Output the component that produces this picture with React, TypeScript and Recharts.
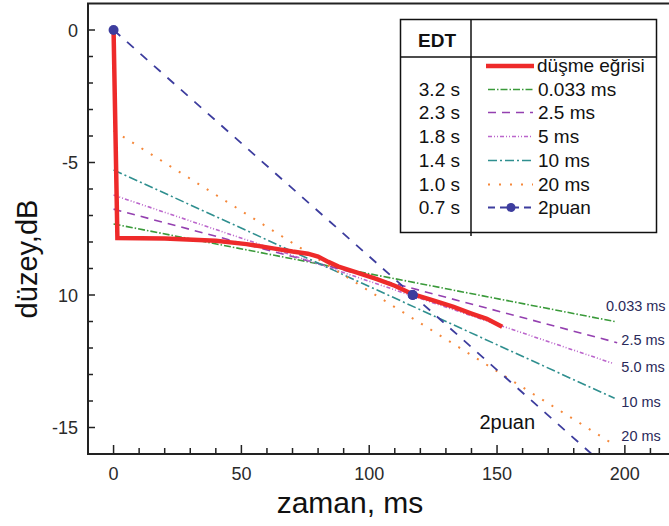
import React from "react";
import { LineChart, Line, XAxis, YAxis, ReferenceArea, ReferenceDot } from "recharts";

// düşme eğrisi (ölçülen)
const decayTime = [0, 1.5, 20, 40, 52, 63, 70, 76, 80, 84, 88, 95, 103, 110, 117, 125, 133, 140, 146, 152];
const decayLevel = [0, -7.85, -7.87, -7.95, -8.08, -8.25, -8.36, -8.44, -8.55, -8.75, -8.93, -9.15, -9.4, -9.65, -9.97, -10.2, -10.45, -10.7, -10.9, -11.2];

// doğrusal uydurmalar
const fitNames = ["0.033 ms", "2.5 ms", "5 ms", "10 ms", "20 ms"];
const fitEndLabels = ["0.033 ms", "2.5 ms", "5.0 ms", "10 ms", "20 ms"];
const fitStartLevel = [-7.32, -6.76, -6.23, -5.28, -3.8];
const fitEndTime = [196, 197, 195, 196, 195];
const fitEndLevel = [-11.0, -11.8, -12.57, -13.9, -15.6];
const fitColors = ["#3a9a3a", "#9440b0", "#bb66cc", "#2f8f8f", "#f5883a"];
const fitDash = ["7 2 1.5 2", "8 6", "4 2 1 2 1 2", "9 3 2 3", "2 9"];

// 2 nokta
const pointTime = [0, 117, 187];
const pointLevel = [0, -10, -16];

const edtValues = ["3.2 s", "2.3 s", "1.8 s", "1.4 s", "1.0 s", "0.7 s"];

const xTicks = [0, 10, 20, 30, 40, 50, 60, 70, 80, 90, 100, 110, 120, 130, 140, 150, 160, 170, 180, 190, 200, 210];
const yTicks = [0, -1, -2, -3, -4, -5, -6, -7, -8, -9, -10, -11, -12, -13, -14, -15];
const yLabelText: Record<number, string> = { 0: "0", [-5]: "-5", [-10]: "10", [-15]: "-15" };

const FONT = "'Liberation Sans', Arial, sans-serif";
const BLUE = "#3d3d9e";

const decayData = decayTime.map((t, i) => ({ x: t, y: decayLevel[i] }));
const fitData = fitNames.map((_, i) => [
  { x: 0, y: fitStartLevel[i] },
  { x: fitEndTime[i], y: fitEndLevel[i] },
]);
const pointData = pointTime.map((t, i) => ({ x: t, y: pointLevel[i] }));

// etiket yerleri (ms, dB)
const endLabelPos = [
  [193, -10.64],
  [199, -11.92],
  [199, -12.94],
  [199, -14.26],
  [199, -15.55],
];

const XTick = (props: any) => {
  const { x, y, payload } = props;
  const v = payload.value;
  const major = v % 50 === 0;
  return (
    <g>
      <line x1={x} x2={x} y1={y} y2={y - (major ? 9 : 6)} stroke="#222" strokeWidth={1.5} />
      {major && (
        <text x={x} y={y + 26} textAnchor="middle" fontSize={18} fontFamily={FONT} fill="#2a2a2a">
          {v}
        </text>
      )}
    </g>
  );
};

const YTick = (props: any) => {
  const { x, y, payload } = props;
  const v = payload.value;
  const label = yLabelText[v];
  return (
    <g>
      <line x1={x} x2={x + (label ? 7 : 5)} y1={y} y2={y} stroke="#222" strokeWidth={1.5} />
      {label && (
        <text x={x - 10} y={y + 6.5} textAnchor="end" fontSize={18} fontFamily={FONT} fill="#2a2a2a">
          {label}
        </text>
      )}
    </g>
  );
};

const PointDot = (props: any) => {
  const { cx, cy, index } = props;
  if (index > 1) return <g key={index} />;
  return <circle key={index} cx={cx} cy={cy} r={5} fill={BLUE} />;
};

const textLabel = (text: string, size: number, color: string) => (p: any) => (
  <text x={p.viewBox.x} y={p.viewBox.y} fontSize={size} fontFamily={FONT} fill={color}>
    {text}
  </text>
);

function LegendBox() {
  const rowY = [72, 96, 119, 143, 167, 191, 214];
  return (
    <svg width={669} height={526} style={{ position: "absolute", left: 0, top: 0, pointerEvents: "none" }}>
      <rect x={400.5} y={19.5} width={256} height={213} fill="#fff" stroke="#111" strokeWidth={1.5} />
      <line x1={471} x2={471} y1={19.5} y2={236} stroke="#111" strokeWidth={1.5} />
      <line x1={400.5} x2={656.5} y1={57} y2={57} stroke="#111" strokeWidth={1.5} />
      <text x={437} y={47} textAnchor="middle" fontSize={19} fontWeight="bold" fontFamily={FONT} fill="#111">
        EDT
      </text>
      <line x1={486} x2={534} y1={66} y2={66} stroke="#ee2a2a" strokeWidth={4.5} />
      <text x={537} y={rowY[0]} fontSize={19} fontFamily={FONT} fill="#111">
        düşme eğrisi
      </text>
      {fitNames.map((n, i) => (
        <g key={n}>
          <text x={460} y={rowY[i + 1]} textAnchor="end" fontSize={19} fontFamily={FONT} fill="#111">
            {edtValues[i]}
          </text>
          <line
            x1={488}
            x2={533}
            y1={rowY[i + 1] - 6.5}
            y2={rowY[i + 1] - 6.5}
            stroke={fitColors[i]}
            strokeWidth={i === 4 ? 2 : 1.6}
            strokeDasharray={fitDash[i]}
          />
          <text x={538} y={rowY[i + 1]} fontSize={19} fontFamily={FONT} fill="#111">
            {n}
          </text>
        </g>
      ))}
      <text x={460} y={rowY[6]} textAnchor="end" fontSize={19} fontFamily={FONT} fill="#111">
        {edtValues[5]}
      </text>
      <line x1={488} x2={533} y1={rowY[6] - 6.5} y2={rowY[6] - 6.5} stroke={BLUE} strokeWidth={1.8} strokeDasharray="7 5" />
      <circle cx={511} cy={rowY[6] - 6.5} r={4.5} fill={BLUE} />
      <text x={538} y={rowY[6]} fontSize={19} fontFamily={FONT} fill="#111">
        2puan
      </text>
      <text x={350} y={513} textAnchor="middle" fontSize={30} fontFamily={FONT} fill="#111">
        zaman, ms
      </text>
      <text
        x={37}
        y={259}
        textAnchor="middle"
        fontSize={29}
        fontFamily={FONT}
        fill="#111"
        transform="rotate(-90 37 259)"
      >
        düzey,dB
      </text>
    </svg>
  );
}

export default function App() {
  return (
    <div style={{ position: "absolute", left: 0, top: 0, width: 669, height: 526, overflow: "hidden", background: "#fff" }}>
      <LineChart width={700} height={526} margin={{ top: 3.5, right: 24, bottom: 0, left: 0 }}>
        <XAxis
          dataKey="x"
          type="number"
          domain={[-10, 220]}
          ticks={xTicks}
          tick={<XTick />}
          tickSize={0}
          tickMargin={0}
          tickLine={false}
          height={72}
          interval={0}
          allowDataOverflow
          axisLine={{ stroke: "#222", strokeWidth: 2 }}
        />
        <YAxis
          dataKey="y"
          type="number"
          domain={[-16, 1]}
          ticks={yTicks}
          tick={<YTick />}
          tickSize={0}
          tickMargin={0}
          tickLine={false}
          width={88}
          interval={0}
          allowDataOverflow
          axisLine={{ stroke: "#222", strokeWidth: 2 }}
        />
        <ReferenceArea x1={-10} x2={220} y1={-16} y2={1} fill="none" stroke="#222" strokeWidth={2} ifOverflow="visible" />
        {fitData.map((d, i) => (
          <Line
            key={fitNames[i]}
            data={d}
            dataKey="y"
            type="linear"
            stroke={fitColors[i]}
            strokeWidth={i === 4 ? 2 : 1.6}
            strokeDasharray={fitDash[i]}
            dot={false}
            isAnimationActive={false}
          />
        ))}
        <Line
          data={pointData}
          dataKey="y"
          type="linear"
          stroke={BLUE}
          strokeWidth={1.8}
          strokeDasharray="9 9"
          dot={<PointDot />}
          isAnimationActive={false}
        />
        <Line
          data={decayData}
          dataKey="y"
          type="linear"
          stroke="#ee2a2a"
          strokeWidth={4.5}
          dot={false}
          isAnimationActive={false}
        />
        <ReferenceDot x={pointTime[1]} y={pointLevel[1]} r={5} fill={BLUE} stroke="none" />
        {fitEndLabels.map((t, i) => (
          <ReferenceDot
            key={t}
            x={endLabelPos[i][0]}
            y={endLabelPos[i][1]}
            r={1}
            fill="none"
            stroke="none"
            label={textLabel(t, 14.5, "#2a2a5a")}
          />
        ))}
        <ReferenceDot x={143.5} y={-15.1} r={1} fill="none" stroke="none" label={textLabel("2puan", 20, "#111")} />
      </LineChart>
      <LegendBox />
    </div>
  );
}
